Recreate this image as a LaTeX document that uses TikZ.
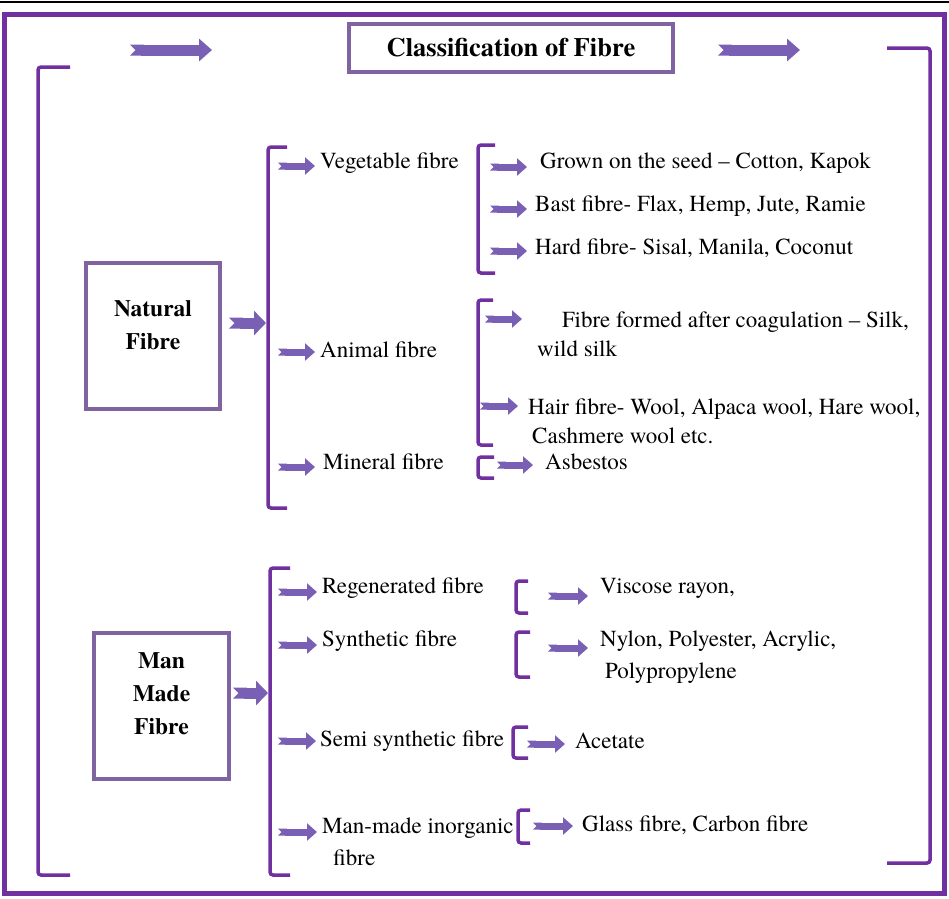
\documentclass[tikz,border=0pt]{standalone}
\usepackage{fontspec}
\IfFontExistsTF{texgyretermes-regular.otf}
  {\setmainfont{texgyretermes}[Extension=.otf, UprightFont=*-regular, BoldFont=*-bold, ItalicFont=*-italic, BoldItalicFont=*-bolditalic]}
  {}
\usetikzlibrary{arrows.meta,calc}

\definecolor{framepurple}{RGB}{112,48,160}
\definecolor{boxpurple}{RGB}{128,100,162}
\definecolor{arrowpurple}{RGB}{122,96,180}

\tikzset{
  brk/.style={framepurple, line width=3.5pt, rounded corners=3pt},
  fibrebox/.style={draw=boxpurple, line width=4pt, inner sep=0pt},
  boxtext/.style={inner sep=0pt, align=center, font=\fontsize{23.5}{33}\selectfont\bfseries},
  lbl/.style={anchor=west, inner sep=0pt, align=left, font=\fontsize{23}{29}\selectfont},
  fatarrow/.style={arrowpurple, line width=7pt, {Triangle Cap[reversed]}-{Triangle[width=17pt,length=10pt]}, shorten >=5pt},
  boxarrow/.style={arrowpurple, line width=11pt, {Triangle Cap[reversed]}-{Triangle[width=24pt,length=12pt]}},
  bigarrow/.style={arrowpurple, line width=11pt, {Triangle Cap[reversed]}-{Triangle[width=22pt,length=13pt]}}
}

\begin{document}
\begin{tikzpicture}[x=1pt,y=-1pt]
  \useasboundingbox (0,0) rectangle (949,898);

  % frame
  \draw[line width=1.5pt] (0,2) -- (949,2);
  \draw[framepurple, line width=5pt] (4,14) rectangle (944,893);

  % title
  \node[fibrebox, minimum width=324pt, minimum height=48pt, font=\fontsize{26.5}{30}\selectfont\bfseries] (title) at (511,48) {Classification of Fibre};
  \coordinate (tl) at (130,50);
  \coordinate (tlE) at (212,50);
  \coordinate (tr) at (718,50);
  \coordinate (trE) at (800,50);
  \draw[bigarrow] (tl) -- (tlE);
  \draw[bigarrow] (tr) -- (trE);

  % outer brackets
  \draw[brk] (70,67) -- (38,67) -- (38,875) -- (70,875);
  \draw[brk] (887,48) -- (930,48) -- (930,863) -- (887,863);

  % natural fibre
  \node[fibrebox, minimum width=134pt, minimum height=146pt] (nat) at (153,336) {};
  \node[boxtext] (natT) at (153,325) {Natural\\Fibre};
  \coordinate (natB) at (266,323);
  \draw[boxarrow, shorten <=7pt] (nat.east |- natB) -- (natB);
  \draw[brk] (287,147) -- (268,147) -- (268,508) -- (287,508);

  \node[lbl] (veg) at (320,163) {Vegetable fibre};
  \node[lbl] (ani) at (320,350) {Animal fibre};
  \node[lbl] (min) at (323,462) {Mineral fibre};
  \coordinate (vegA) at (278,166);
  \coordinate (aniA) at (278,352);
  \coordinate (minA) at (278,467);
  \draw[fatarrow] (vegA) -- (vegA -| veg.west);
  \draw[fatarrow] (aniA) -- (aniA -| ani.west);
  \draw[fatarrow, shorten >=8pt] (minA) -- (minA -| min.west);

  % vegetable
  \draw[brk] (495,145) -- (478,145) -- (478,273) -- (495,273);
  \node[lbl] (grown) at (540,163) {Grown on the seed – Cotton, Kapok};
  \node[lbl] (bast) at (535,206) {Bast fibre- Flax, Hemp, Jute, Ramie};
  \node[lbl] (hard) at (535,248) {Hard fibre- Sisal, Manila, Coconut};
  \coordinate (grownA) at (490,167);
  \coordinate (bastA) at (490,209);
  \coordinate (hardA) at (490,251);
  \draw[fatarrow, shorten >=13pt] (grownA) -- (grownA -| grown.west);
  \draw[fatarrow, shorten >=8pt] (bastA) -- (bastA -| bast.west);
  \draw[fatarrow, shorten >=8pt] (hardA) -- (hardA -| hard.west);

  % animal
  \draw[brk] (493,300) -- (478,300) -- (478,445) -- (493,445);
  \node[lbl] (coag) at (537,334) {\hspace{25pt}Fibre formed after coagulation – Silk,\\wild silk};
  \node[lbl] (hair) at (528,421) {Hair fibre- Wool, Alpaca wool, Hare wool,\\\hspace{4pt}Cashmere wool etc.};
  \coordinate (coagA) at (485,319);
  \coordinate (hairA) at (480,406);
  \draw[fatarrow, shorten >=15pt] (coagA) -- (coagA -| coag.west);
  \draw[fatarrow, shorten >=10pt] (hairA) -- (hairA -| hair.west);

  % mineral
  \draw[brk] (494,457) -- (478,457) -- (478,478) -- (494,478);
  \node[lbl] (asb) at (545,462) {Asbestos};
  \coordinate (asbA) at (497,465);
  \draw[fatarrow, shorten >=12pt] (asbA) -- (asbA -| asb.west);

  % man made fibre
  \node[fibrebox, minimum width=135pt, minimum height=146pt] (mm) at (161.5,706) {};
  \node[boxtext] (mmT) at (161.5,694) {Man\\Made\\Fibre};
  \coordinate (mmB) at (268,693);
  \draw[boxarrow, shorten <=2pt] (mm.east |- mmB) -- (mmB);
  \draw[brk] (290,568) -- (270,568) -- (270,875) -- (290,875);

  \node[lbl] (regen) at (322,588) {Regenerated fibre};
  \node[lbl] (synth) at (322,641) {Synthetic fibre};
  \node[lbl] (semi) at (320,741) {Semi synthetic fibre};
  \node[lbl] (inorg) at (322,842) {Man-made inorganic\\[3pt]\hspace{11pt}fibre};
  \coordinate (regenA) at (278,592);
  \coordinate (synthA) at (278,645);
  \coordinate (semiA) at (278,741);
  \coordinate (inorgA) at (278,832);
  \draw[fatarrow] (regenA) -- (regenA -| regen.west);
  \draw[fatarrow] (synthA) -- (synthA -| synth.west);
  \draw[fatarrow, shorten >=4pt] (semiA) -- (semiA -| semi.west);
  \draw[fatarrow] (inorgA) -- (inorgA -| inorg.west);

  % sub brackets
  \draw[brk] (528,581) -- (516,581) -- (516,613) -- (528,613);
  \draw[brk] (530,632) -- (516,632) -- (516,677) -- (530,677);
  \draw[brk] (528,727) -- (513,727) -- (513,758) -- (528,758);
  \draw[brk] (530,810) -- (518,810) -- (518,843) -- (530,843);

  \node[lbl] (visc) at (600,588) {Viscose rayon,};
  \node[lbl] (nylon) at (600,657) {Nylon, Polyester, Acrylic,\\[3pt]\hspace{5pt}Polypropylene};
  \node[lbl] (acet) at (575,741) {Acetate};
  \node[lbl] (glass) at (582,825) {Glass fibre, Carbon fibre};
  \coordinate (viscA) at (548,596);
  \coordinate (nylonA) at (548,648);
  \coordinate (acetA) at (527,744);
  \coordinate (glassA) at (533,826);
  \draw[fatarrow, shorten >=12pt] (viscA) -- (viscA -| visc.west);
  \draw[fatarrow, shorten >=12pt] (nylonA) -- (nylonA -| nylon.west);
  \draw[fatarrow, shorten >=10pt] (acetA) -- (acetA -| acet.west);
  \draw[fatarrow, shorten >=9pt] (glassA) -- (glassA -| glass.west);
\end{tikzpicture}
\end{document}
